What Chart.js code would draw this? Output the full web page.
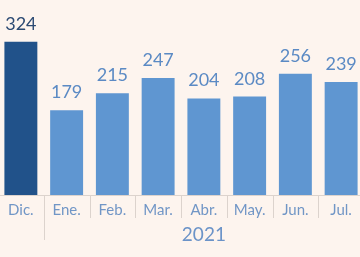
<!DOCTYPE html>
<html>
<head>
<meta charset="utf-8">
<script src="https://cdn.jsdelivr.net/npm/chart.js@4/dist/chart.umd.min.js"></script>
<style>
  html, body { margin: 0; padding: 0; background: #fdf4ee; overflow: hidden; }
  #wrap { position: absolute; left: -2px; top: 0; width: 366px; height: 257px; }
</style>
</head>
<body>
<div id="wrap"><canvas id="chart"></canvas></div>
<script>
const months = ['Dic.', 'Ene.', 'Feb.', 'Mar.', 'Abr.', 'May.', 'Jun.', 'Jul.'];
const values = [324, 179, 215, 247, 204, 208, 256, 239];
const yearLabel = '2021';

const darkBlue = '#21528a';
const lightBlue = '#5f96d1';
const font = 'Lato, sans-serif';

// value labels, month separators and the year label
const extras = {
  id: 'extras',
  afterDatasetsDraw(chart) {
    const ctx = chart.ctx;
    const x = chart.scales.x;
    const bottom = chart.chartArea.bottom;
    const meta = chart.getDatasetMeta(0);

    ctx.save();
    ctx.font = '18px ' + font;
    ctx.textAlign = 'center';
    ctx.textBaseline = 'alphabetic';
    meta.data.forEach((bar, i) => {
      ctx.fillStyle = i === 0 ? '#2c4a73' : '#5b8ac4';
      ctx.fillText(String(values[i]), bar.x, bar.y - 12);
    });

    ctx.strokeStyle = '#dcd3cd';
    ctx.lineWidth = 1;
    for (let i = 1; i < months.length; i++) {
      const px = Math.round((x.getPixelForValue(i - 1) + x.getPixelForValue(i)) / 2) + 0.5;
      ctx.beginPath();
      ctx.moveTo(px, bottom);
      ctx.lineTo(px, bottom + (i === 1 ? 45 : 23));
      ctx.stroke();
    }

    const half = (x.getPixelForValue(1) - x.getPixelForValue(0)) / 2;
    const left = x.getPixelForValue(1) - half;
    const right = x.getPixelForValue(months.length - 1) + half;
    ctx.font = '19px ' + font;
    ctx.fillStyle = '#6b93c8';
    ctx.fillText(yearLabel, (left + right) / 2, bottom + 46);
    ctx.restore();
  }
};

new Chart(document.getElementById('chart'), {
  type: 'bar',
  data: {
    labels: months,
    datasets: [{
      data: values,
      backgroundColor: values.map((v, i) => i === 0 ? darkBlue : lightBlue),
      categoryPercentage: 1,
      barPercentage: 0.72
    }]
  },
  options: {
    responsive: true,
    maintainAspectRatio: false,
    animation: false,
    layout: { padding: { top: 0, left: 0, right: 0, bottom: 32 } },
    plugins: { legend: { display: false }, tooltip: { enabled: false } },
    scales: {
      x: {
        grid: { display: false, drawTicks: false },
        border: { display: true, color: '#dcd3cd', width: 1 },
        ticks: { color: '#7196c6', font: { family: font, size: 15 }, padding: 6 }
      },
      y: {
        display: false,
        min: 0,
        max: 412
      }
    }
  },
  plugins: [extras]
});
</script>
</body>
</html>
